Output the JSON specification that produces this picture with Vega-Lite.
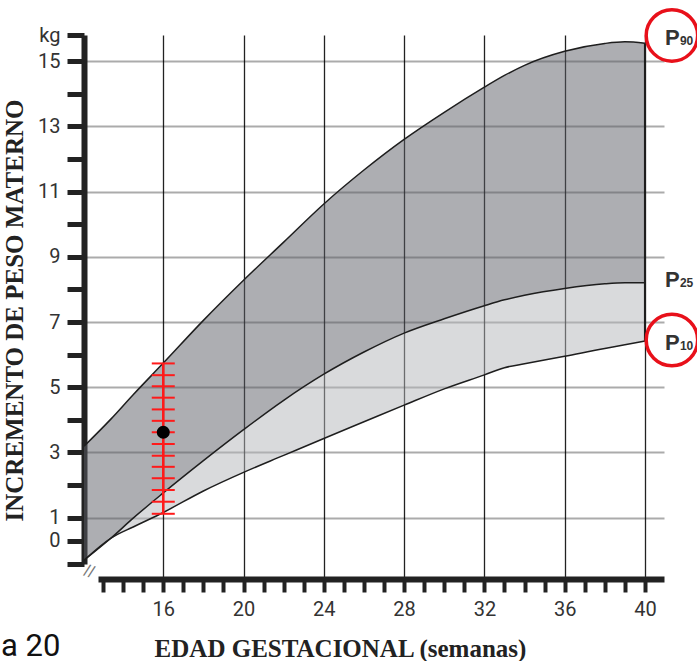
{
  "$schema": "https://vega.github.io/schema/vega-lite/v6.json",
  "width": 580,
  "height": 544,
  "autosize": "none",
  "padding": {"left": 84, "top": 35, "right": 33, "bottom": 82},
  "background": "white",
  "config": {"view": {"stroke": null}},
  "title": {"text": "a 20", "orient": "bottom", "anchor": "start", "frame": "bounds", "font": "Roboto", "fontSize": 31, "fontWeight": "normal", "color": "#111", "baseline": "alphabetic", "offset": 0, "dx": -1, "dy": -5},
  "datasets": {
    "curves": [
      {"week": 12.05, "p90": 3.19, "p25": -0.84, "p10": -0.84},
      {"week": 13.4, "p90": 4.03, "p25": 0.12, "p10": 0.12},
      {"week": 14.5, "p90": 4.77, "p25": 0.98, "p10": 0.6},
      {"week": 16, "p90": 5.74, "p25": 1.76, "p10": 1.16},
      {"week": 18, "p90": 7.05, "p25": 2.75, "p10": 1.82},
      {"week": 20, "p90": 8.28, "p25": 3.7, "p10": 2.39},
      {"week": 22, "p90": 9.45, "p25": 4.6, "p10": 2.91},
      {"week": 24, "p90": 10.62, "p25": 5.4, "p10": 3.43},
      {"week": 26, "p90": 11.66, "p25": 6.08, "p10": 3.94},
      {"week": 28, "p90": 12.6, "p25": 6.66, "p10": 4.45},
      {"week": 30, "p90": 13.43, "p25": 7.1, "p10": 4.95},
      {"week": 32, "p90": 14.2, "p25": 7.5, "p10": 5.38},
      {"week": 33, "p90": 14.56, "p25": 7.68, "p10": 5.6},
      {"week": 34, "p90": 14.87, "p25": 7.82, "p10": 5.72},
      {"week": 36, "p90": 15.3, "p25": 8.03, "p10": 5.95},
      {"week": 38, "p90": 15.54, "p25": 8.17, "p10": 6.19},
      {"week": 39, "p90": 15.59, "p25": 8.2, "p10": 6.3},
      {"week": 40, "p90": 15.55, "p25": 8.2, "p10": 6.42}
    ],
    "redticks": [
      {"week": 16, "kg": 5.73}, {"week": 16, "kg": 5.37}, {"week": 16, "kg": 5.03}, {"week": 16, "kg": 4.68},
      {"week": 16, "kg": 4.32}, {"week": 16, "kg": 3.97}, {"week": 16, "kg": 3.62}, {"week": 16, "kg": 3.26},
      {"week": 16, "kg": 2.9}, {"week": 16, "kg": 2.56}, {"week": 16, "kg": 2.21}, {"week": 16, "kg": 1.85},
      {"week": 16, "kg": 1.49}, {"week": 16, "kg": 1.12}
    ],
    "plabels": [
      {"pct": "P90", "sub": "90", "week": 40, "kg": 15.48},
      {"pct": "P25", "sub": "25", "week": 40, "kg": 8.07},
      {"pct": "P10", "sub": "10", "week": 40, "kg": 6.14}
    ]
  },
  "resolve": {"axis": {"x": "independent", "y": "independent"}},
  "layer": [
    {
      "data": {"name": "curves"},
      "mark": {"type": "area", "color": "#5b5d65", "fillOpacity": 0.5, "interpolate": "monotone"},
      "encoding": {
        "x": {"field": "week", "type": "quantitative",
          "scale": {"domain": [12.05, 40.95], "nice": false, "zero": false},
          "axis": {"orient": "bottom", "values": [16, 20, 24, 28, 32, 36, 40], "grid": true, "gridColor": "#222", "gridWidth": 1.3, "gridOpacity": 1, "domain": false, "ticks": false, "labels": false, "title": null}},
        "y": {"field": "p90", "type": "quantitative",
          "scale": {"domain": [-1.65, 1, 15.8], "range": [544, 482.7, 0], "nice": false, "zero": false},
          "axis": {
            "orient": "left",
            "values": [-1, 0, 1, 2, 3, 4, 5, 6, 7, 8, 9, 10, 11, 12, 13, 14, 15, 15.8],
            "domainColor": "#222", "domainWidth": 6, "domainDash": [0, 15, 529, 1000],
            "tickColor": "#222", "tickWidth": 5, "tickSize": 17,
            "labelFont": "Roboto", "labelFontSize": 20, "labelColor": "#333", "labelPadding": 7, "labelBaseline": "middle",
            "labelFlush": false, "labelOverlap": false, "labelBound": false,
            "labelExpr": "datum.value > 15.5 ? 'kg' : ((datum.value == 0 || (datum.value >= 1 && datum.value % 2 == 1)) ? '' + datum.value : '')",
            "grid": false,
            "title": "INCREMENTO DE PESO MATERNO", "titleFont": "Liberation Serif", "titleFontSize": 25, "titleFontWeight": "bold", "titleColor": "#222",
            "titleAngle": 270, "titleX": -70, "titleY": 275, "titleAlign": "center", "titleBaseline": "middle"
          }},
        "y2": {"field": "p25"}
      }
    },
    {
      "data": {"name": "curves"},
      "mark": {"type": "area", "color": "#b3b5b9", "fillOpacity": 0.5, "interpolate": "monotone"},
      "encoding": {
        "x": {"field": "week", "type": "quantitative", "scale": {"domain": [12.05, 40.95], "nice": false, "zero": false}, "axis": null},
        "y": {"field": "p25", "type": "quantitative", "scale": {"domain": [-1.65, 1, 15.8], "range": [544, 482.7, 0], "nice": false, "zero": false},
          "axis": {"orient": "left", "values": [1, 3, 5, 7, 9, 11, 13, 15], "grid": true, "gridColor": "#000", "gridOpacity": 0.33, "gridWidth": 2, "domain": false, "ticks": false, "labels": false, "title": null}},
        "y2": {"field": "p10"}
      }
    },
    {
      "data": {"name": "curves"},
      "transform": [{"fold": ["p90", "p25", "p10"], "as": ["pct", "kg"]}],
      "mark": {"type": "line", "color": "#1e1e1e", "strokeWidth": 1.5, "interpolate": "monotone"},
      "encoding": {
        "x": {"field": "week", "type": "quantitative", "scale": {"domain": [12.05, 40.95], "nice": false, "zero": false},
          "axis": {
            "orient": "bottom",
            "values": [13, 14, 15, 16, 17, 18, 19, 20, 21, 22, 23, 24, 25, 26, 27, 28, 29, 30, 31, 32, 33, 34, 35, 36, 37, 38, 39, 40],
            "domainColor": "#222", "domainWidth": 6, "domainDash": [0, 14, 1000],
            "tickColor": "#222", "tickWidth": 4, "tickSize": 13,
            "labelExpr": "datum.value % 4 == 0 ? '' + datum.value : ''",
            "labelFont": "Roboto", "labelFontSize": 20, "labelColor": "#333", "labelPadding": 7,
            "labelFlush": false, "labelOverlap": false, "labelBound": false,
            "grid": false,
            "title": "EDAD GESTACIONAL (semanas)", "titleFont": "Liberation Serif", "titleFontSize": 25, "titleFontWeight": "bold", "titleColor": "#222",
            "titleX": 256, "titleY": 69, "titleAlign": "center", "titleBaseline": "middle"
          }},
        "y": {"field": "kg", "type": "quantitative", "scale": {"domain": [-1.65, 1, 15.8], "range": [544, 482.7, 0], "nice": false, "zero": false}, "axis": null},
        "detail": {"field": "pct"}
      }
    },
    {
      "data": {"name": "curves"},
      "transform": [{"filter": "datum.week == 40"}],
      "mark": {"type": "rule", "color": "#1e1e1e", "strokeWidth": 2},
      "encoding": {
        "x": {"field": "week", "type": "quantitative", "scale": {"domain": [12.05, 40.95], "nice": false, "zero": false}, "axis": null},
        "y": {"field": "p10", "type": "quantitative", "scale": {"domain": [-1.65, 1, 15.8], "range": [544, 482.7, 0], "nice": false, "zero": false}, "axis": null},
        "y2": {"field": "p90"}
      }
    },
    {
      "data": {"values": [{"week": 16, "lo": 1.12, "hi": 5.73}]},
      "mark": {"type": "rule", "color": "#ff1a1a", "strokeWidth": 2.5},
      "encoding": {
        "x": {"field": "week", "type": "quantitative", "scale": {"domain": [12.05, 40.95], "nice": false, "zero": false}, "axis": null},
        "y": {"field": "lo", "type": "quantitative", "scale": {"domain": [-1.65, 1, 15.8], "range": [544, 482.7, 0], "nice": false, "zero": false}, "axis": null},
        "y2": {"field": "hi"}
      }
    },
    {
      "data": {"name": "redticks"},
      "mark": {"type": "tick", "orient": "horizontal", "color": "#ff1a1a", "size": 23, "thickness": 2, "opacity": 1},
      "encoding": {
        "x": {"field": "week", "type": "quantitative", "scale": {"domain": [12.05, 40.95], "nice": false, "zero": false}, "axis": null},
        "y": {"field": "kg", "type": "quantitative", "scale": {"domain": [-1.65, 1, 15.8], "range": [544, 482.7, 0], "nice": false, "zero": false}, "axis": null}
      }
    },
    {
      "data": {"values": [{"week": 16, "kg": 3.62}]},
      "mark": {"type": "point", "filled": true, "color": "#000", "size": 170, "opacity": 1},
      "encoding": {
        "x": {"field": "week", "type": "quantitative", "scale": {"domain": [12.05, 40.95], "nice": false, "zero": false}, "axis": null},
        "y": {"field": "kg", "type": "quantitative", "scale": {"domain": [-1.65, 1, 15.8], "range": [544, 482.7, 0], "nice": false, "zero": false}, "axis": null}
      }
    },
    {
      "data": {"values": [{"sym": "//", "week": 12.3, "kg": -1.35}]},
      "mark": {"type": "text", "font": "Liberation Sans", "fontSize": 17, "color": "#777", "align": "center", "baseline": "middle", "angle": 18},
      "encoding": {
        "x": {"field": "week", "type": "quantitative", "scale": {"domain": [12.05, 40.95], "nice": false, "zero": false}, "axis": null},
        "y": {"field": "kg", "type": "quantitative", "scale": {"domain": [-1.65, 1, 15.8], "range": [544, 482.7, 0], "nice": false, "zero": false}, "axis": null},
        "text": {"field": "sym"}
      }
    },
    {
      "data": {"name": "plabels"},
      "mark": {"type": "text", "text": "P", "font": "Liberation Sans", "fontWeight": "bold", "fontSize": 22, "color": "#333", "align": "left", "baseline": "alphabetic", "dx": 20},
      "encoding": {
        "x": {"field": "week", "type": "quantitative", "scale": {"domain": [12.05, 40.95], "nice": false, "zero": false}, "axis": null},
        "y": {"field": "kg", "type": "quantitative", "scale": {"domain": [-1.65, 1, 15.8], "range": [544, 482.7, 0], "nice": false, "zero": false}, "axis": null}
      }
    },
    {
      "data": {"name": "plabels"},
      "mark": {"type": "text", "font": "Liberation Sans", "fontWeight": "bold", "fontSize": 12, "color": "#333", "align": "left", "baseline": "alphabetic", "dx": 35},
      "encoding": {
        "x": {"field": "week", "type": "quantitative", "scale": {"domain": [12.05, 40.95], "nice": false, "zero": false}, "axis": null},
        "y": {"field": "kg", "type": "quantitative", "scale": {"domain": [-1.65, 1, 15.8], "range": [544, 482.7, 0], "nice": false, "zero": false}, "axis": null},
        "text": {"field": "sub"}
      }
    },
    {
      "data": {"name": "plabels"},
      "transform": [{"filter": "datum.pct != 'P25'"}],
      "mark": {"type": "point", "shape": "circle", "filled": false, "stroke": "#e8101a", "strokeWidth": 3.5, "size": 2650, "opacity": 1, "xOffset": 27, "yOffset": -10},
      "encoding": {
        "x": {"field": "week", "type": "quantitative", "scale": {"domain": [12.05, 40.95], "nice": false, "zero": false}, "axis": null},
        "y": {"field": "kg", "type": "quantitative", "scale": {"domain": [-1.65, 1, 15.8], "range": [544, 482.7, 0], "nice": false, "zero": false}, "axis": null}
      }
    }
  ]
}
